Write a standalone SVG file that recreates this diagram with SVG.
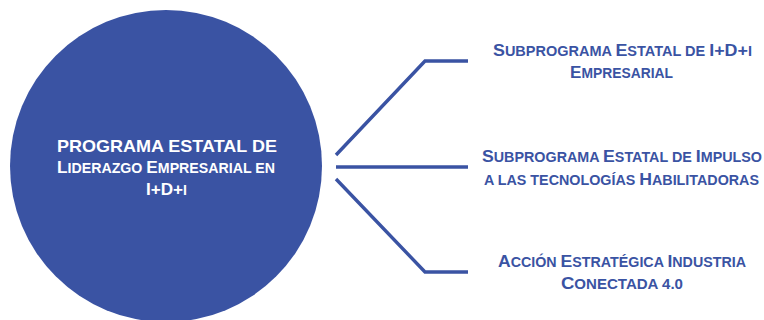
<svg xmlns="http://www.w3.org/2000/svg" width="764" height="320" viewBox="0 0 764 320">
<style>
.c{fill:#3A53A3}
.t{font-family:"Liberation Sans",Arial,sans-serif;font-weight:bold;text-anchor:middle}
.w{fill:#FFFFFF;font-size:17px}
.w .s{font-size:14px}
.b{fill:#3A53A3;font-size:17px}
.b .s{font-size:13.8px}
.ln{fill:none;stroke:#3A53A3;stroke-width:3.4}
</style>
<rect width="764" height="320" fill="#FFFFFF"/>
<g id="main">
<circle class="c" cx="166" cy="166" r="156"/>
<text class="t w" x="167" y="151.5" textLength="220" lengthAdjust="spacingAndGlyphs">PROGRAMA ESTATAL DE</text>
<text class="t w" x="166" y="173" textLength="218" lengthAdjust="spacingAndGlyphs">L<tspan class="s">IDERAZGO </tspan>E<tspan class="s">MPRESARIAL EN</tspan></text>
<text class="t w" x="166.5" y="195" textLength="41" lengthAdjust="spacingAndGlyphs">I+D+<tspan class="s">I</tspan></text>
</g>
<g id="connectors">
<polyline class="ln" points="336,155 425,61 468,61"/>
<polyline class="ln" points="336,167 468,167"/>
<polyline class="ln" points="336,179 425,272 468,272"/>
</g>
<g id="n1">
<text class="t b" x="622.5" y="56" textLength="259" lengthAdjust="spacingAndGlyphs">S<tspan class="s">UBPROGRAMA </tspan>E<tspan class="s">STATAL DE </tspan>I+D+<tspan class="s">I</tspan></text>
<text class="t b" x="621.5" y="78" textLength="103" lengthAdjust="spacingAndGlyphs">E<tspan class="s">MPRESARIAL</tspan></text>
</g>
<g id="n2">
<text class="t b" x="622" y="162" textLength="280" lengthAdjust="spacingAndGlyphs">S<tspan class="s">UBPROGRAMA </tspan>E<tspan class="s">STATAL DE </tspan>I<tspan class="s">MPULSO</tspan></text>
<text class="t b" x="621.5" y="185" textLength="275" lengthAdjust="spacingAndGlyphs"><tspan class="s">A LAS TECNOLOGÍAS </tspan>H<tspan class="s">ABILITADORAS</tspan></text>
</g>
<g id="n3">
<text class="t b" x="622" y="267" textLength="248" lengthAdjust="spacingAndGlyphs">A<tspan class="s">CCIÓN </tspan>E<tspan class="s">STRATÉGICA </tspan>I<tspan class="s">NDUSTRIA</tspan></text>
<text class="t b" x="622" y="289" textLength="122" lengthAdjust="spacingAndGlyphs">C<tspan class="s">ONECTADA 4.0</tspan></text>
</g>
</svg>
